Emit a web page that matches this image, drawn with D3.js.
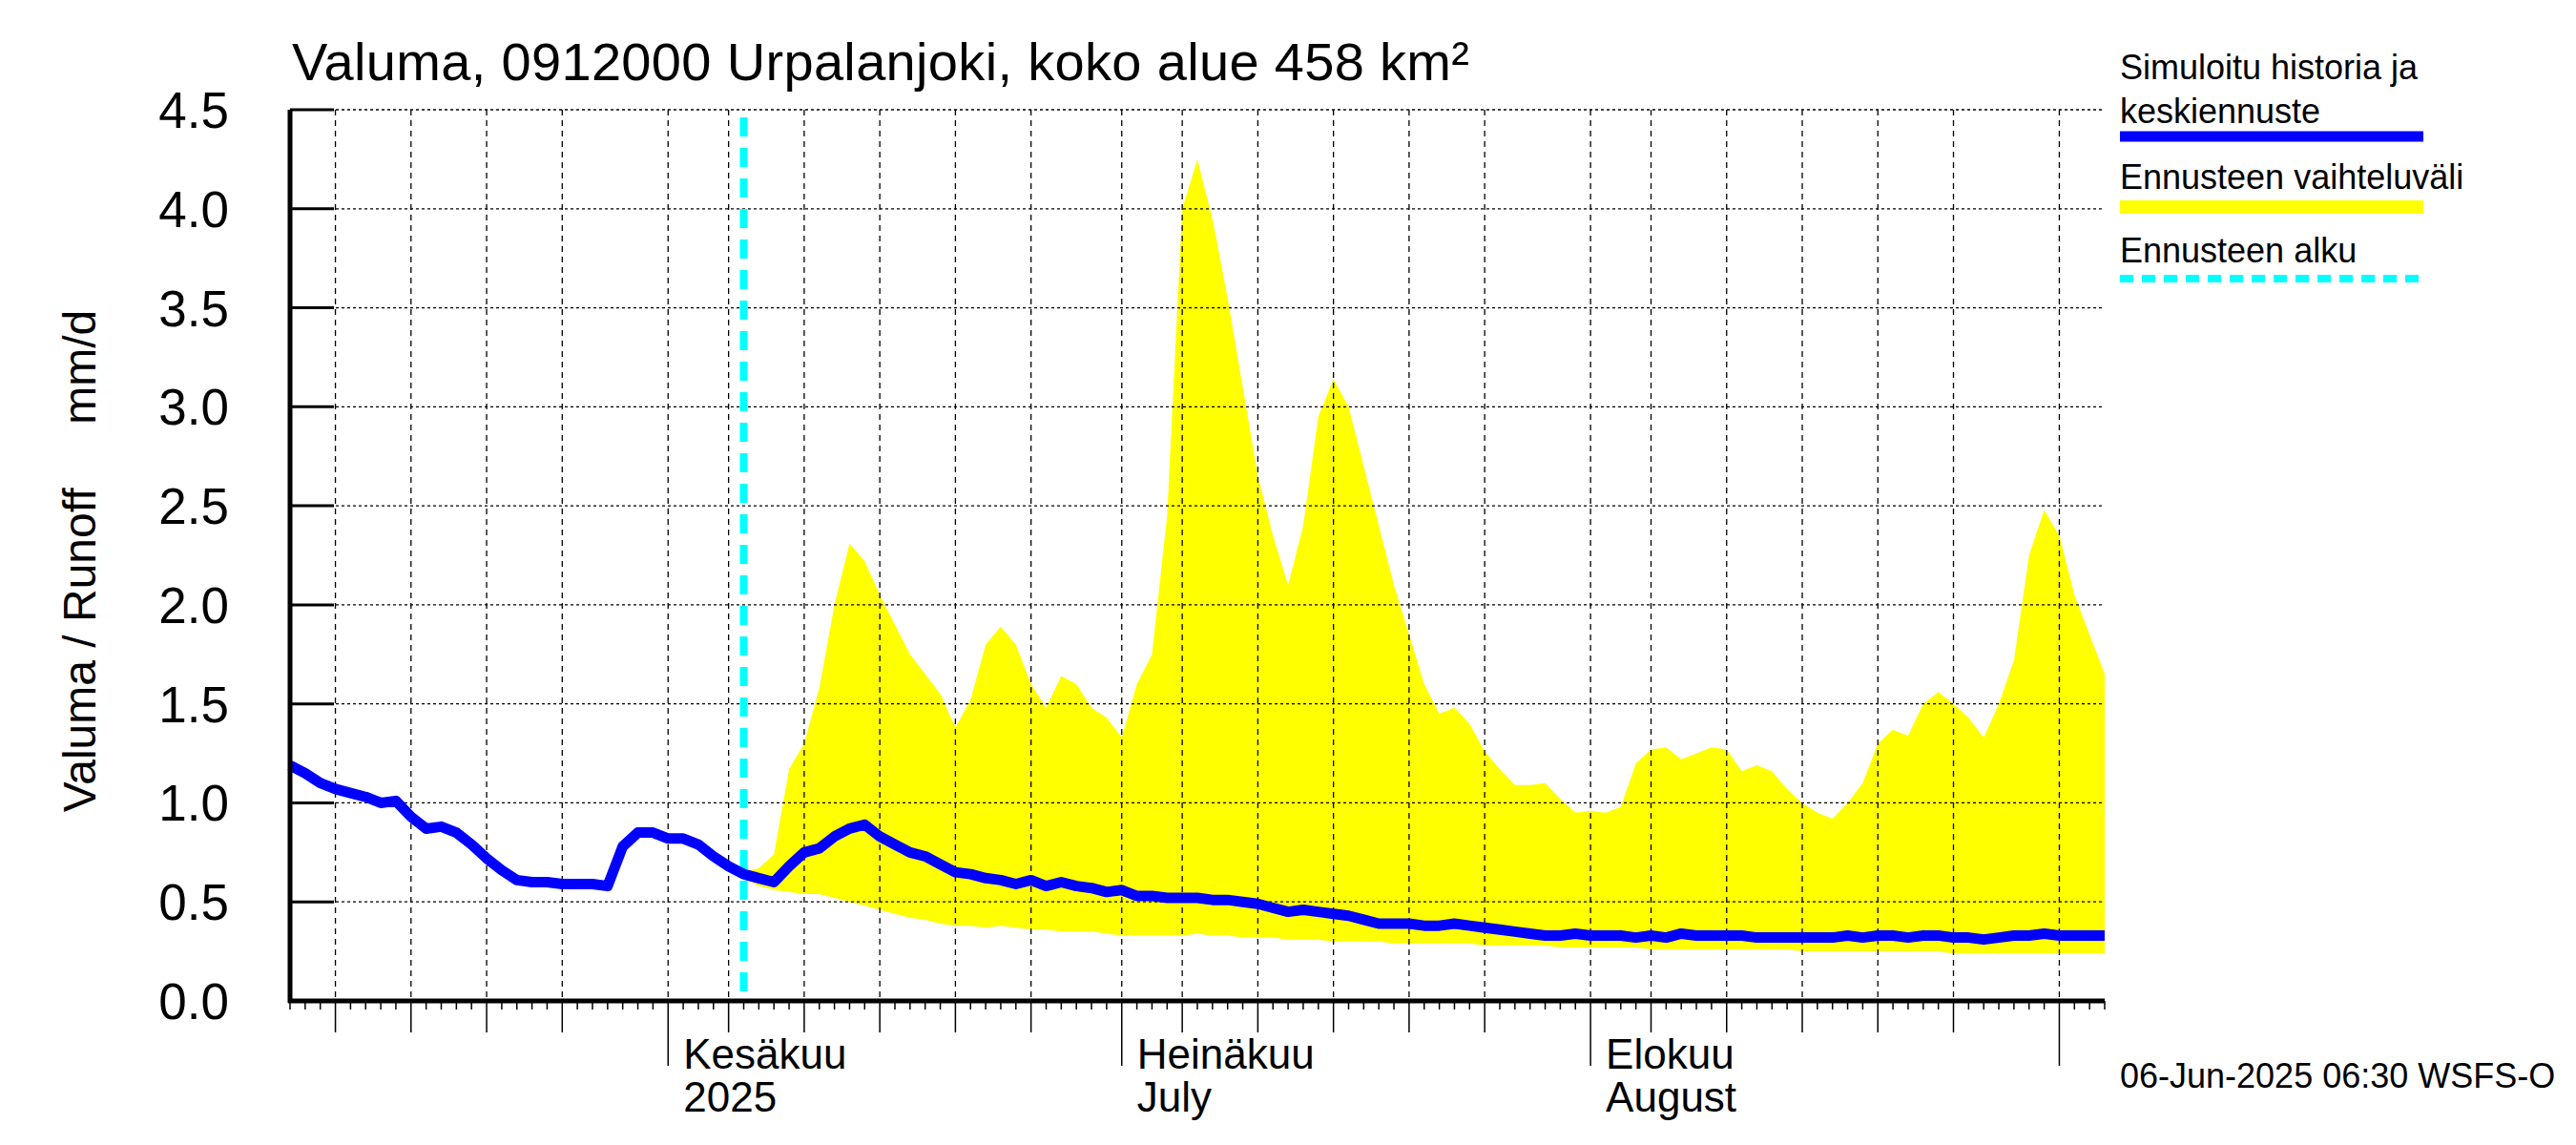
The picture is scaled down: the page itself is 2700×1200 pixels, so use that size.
<!DOCTYPE html>
<html lang="fi">
<head>
<meta charset="UTF-8">
<title>Valuma 0912000 Urpalanjoki</title>
<style>
  body { margin: 0; background: #fff; }
  svg { display: block; }
  .narrow { font-family: 'Liberation Sans Narrow', 'Arial Narrow', 'Liberation Sans', sans-serif; }
</style>
<script src="https://cdn.jsdelivr.net/npm/d3@7"></script>
</head>
<body>
<svg id="chart" width="2700" height="1200"></svg>
<script>
// daily values, first day 2025-05-07
const startDay = "2025-05-07";
const forecastStart = "2025-06-06";
const simulated = [
  1.19, 1.15, 1.10, 1.07, 1.05, 1.03, 1.00, 1.01, 0.93, 0.87,
  0.88, 0.85, 0.79, 0.72, 0.66, 0.61, 0.60, 0.60, 0.59, 0.59,
  0.59, 0.58, 0.78, 0.85, 0.85, 0.82, 0.82, 0.79, 0.73, 0.68,
  0.64, 0.62, 0.60, 0.68, 0.75, 0.77, 0.83, 0.87, 0.89, 0.83,
  0.79, 0.75, 0.73, 0.69, 0.65, 0.64, 0.62, 0.61, 0.59, 0.61,
  0.58, 0.60, 0.58, 0.57, 0.55, 0.56, 0.53, 0.53, 0.52, 0.52,
  0.52, 0.51, 0.51, 0.50, 0.49, 0.47, 0.45, 0.46, 0.45, 0.44,
  0.43, 0.41, 0.39, 0.39, 0.39, 0.38, 0.38, 0.39, 0.38, 0.37,
  0.36, 0.35, 0.34, 0.33, 0.33, 0.34, 0.33, 0.33, 0.33, 0.32,
  0.33, 0.32, 0.34, 0.33, 0.33, 0.33, 0.33, 0.32, 0.32, 0.32,
  0.32, 0.32, 0.32, 0.33, 0.32, 0.33, 0.33, 0.32, 0.33, 0.33,
  0.32, 0.32, 0.31, 0.32, 0.33, 0.33, 0.34, 0.33, 0.33, 0.33,
  0.33
];
// forecast range, first day 2025-06-06
const rangeHigh = [
  0.65, 0.67, 0.74, 1.17, 1.30, 1.58, 2.00, 2.31, 2.22, 2.05,
  1.90, 1.75, 1.65, 1.55, 1.38, 1.52, 1.80, 1.89, 1.80, 1.60,
  1.48, 1.64, 1.60, 1.48, 1.43, 1.33, 1.60, 1.75, 2.45, 4.00,
  4.25, 3.95, 3.55, 3.10, 2.65, 2.35, 2.10, 2.40, 2.95, 3.14,
  3.00, 2.70, 2.40, 2.10, 1.85, 1.60, 1.45, 1.48, 1.40, 1.26,
  1.17, 1.09, 1.09, 1.10, 1.02, 0.95, 0.96, 0.95, 0.98, 1.20,
  1.27, 1.28, 1.22, 1.25, 1.28, 1.27, 1.16, 1.19, 1.16, 1.07,
  1.00, 0.95, 0.92, 1.00, 1.10, 1.30, 1.37, 1.34, 1.50, 1.56,
  1.50, 1.43, 1.33, 1.50, 1.72, 2.25, 2.48, 2.35, 2.05, 1.85,
  1.65
];
const rangeLow = [
  0.62, 0.58, 0.56, 0.55, 0.54, 0.54, 0.52, 0.50, 0.48, 0.46,
  0.44, 0.42, 0.41, 0.39, 0.38, 0.38, 0.37, 0.38, 0.37, 0.36,
  0.36, 0.35, 0.35, 0.35, 0.34, 0.33, 0.33, 0.33, 0.33, 0.33,
  0.34, 0.33, 0.33, 0.32, 0.32, 0.32, 0.31, 0.31, 0.31, 0.30,
  0.30, 0.30, 0.30, 0.29, 0.29, 0.29, 0.29, 0.29, 0.29, 0.28,
  0.28, 0.28, 0.28, 0.28, 0.27, 0.27, 0.27, 0.27, 0.27, 0.27,
  0.26, 0.26, 0.26, 0.26, 0.26, 0.26, 0.26, 0.26, 0.26, 0.26,
  0.25, 0.25, 0.25, 0.25, 0.25, 0.25, 0.25, 0.25, 0.25, 0.25,
  0.24, 0.24, 0.24, 0.24, 0.24, 0.24, 0.24, 0.24, 0.24, 0.24,
  0.24
];
const yTicks = [0, 0.5, 1.0, 1.5, 2.0, 2.5, 3.0, 3.5, 4.0, 4.5];
const monthLabels = [
  ["2025-06-01", "Kesäkuu", "2025"],
  ["2025-07-01", "Heinäkuu", "July"],
  ["2025-08-01", "Elokuu", "August"]
];
const titleText = "Valuma, 0912000 Urpalanjoki, koko alue 458 km²";
const yLabel = "Valuma / Runoff     mm/d";
const footer = "06-Jun-2025 06:30 WSFS-O";

const parse = d3.utcParse("%Y-%m-%d");
const t0 = parse(startDay), tf = parse(forecastStart);
const dayAt = (base, i) => d3.utcDay.offset(base, i);

const pL = 304, pR = 2206, pT = 115, pB = 1049;
const svg = d3.select("#chart");
const x = d3.scaleUtc().domain([t0, parse("2025-09-04")]).range([pL, pR]);
const y = d3.scaleLinear().domain([0, 4.5]).range([pB, pT]);

// band
const band = rangeHigh.map((h, i) => ({ t: dayAt(tf, i), h, l: rangeLow[i] }));
svg.append("path").datum(band)
  .attr("fill", "#ffff00")
  .attr("d", d3.area().x(d => x(d.t)).y0(d => y(d.l)).y1(d => y(d.h)));

// grid
const days = d3.utcDay.range(t0, d3.utcDay.offset(x.domain()[1], 1));
const isFive = d => d.getUTCDate() % 5 === 0 && d.getUTCDate() < 30;
const fiveDays = days.filter(d => isFive(d) || d.getUTCDate() === 1);
svg.append("g").selectAll("line").data(fiveDays).join("line")
  .attr("x1", d => x(d)).attr("x2", d => x(d)).attr("y1", pT).attr("y2", pB)
  .attr("stroke", "#000").attr("stroke-width", 1.3).attr("stroke-dasharray", "6,5");
svg.append("g").selectAll("line").data(yTicks.slice(1)).join("line")
  .attr("x1", pL).attr("x2", pR).attr("y1", d => y(d)).attr("y2", d => y(d))
  .attr("stroke", "#000").attr("stroke-width", 1.3).attr("stroke-dasharray", "3,3");

// ticks below axis
svg.append("g").selectAll("line").data(days).join("line")
  .attr("x1", d => x(d)).attr("x2", d => x(d)).attr("y1", pB)
  .attr("y2", d => d.getUTCDate() === 1 ? 1117 : (isFive(d) ? 1082 : 1058))
  .attr("stroke", "#000").attr("stroke-width", 1.5);

// y ticks inward
svg.append("g").selectAll("line").data(yTicks).join("line")
  .attr("x1", pL).attr("x2", pL + 46).attr("y1", d => y(d)).attr("y2", d => y(d))
  .attr("stroke", "#000").attr("stroke-width", 3);
svg.append("g").selectAll("text").data(yTicks).join("text")
  .attr("x", 240).attr("y", d => y(d) + 19).attr("text-anchor", "end")
  .attr("font-family", "'Liberation Sans', Arial, sans-serif").attr("font-size", 53)
  .text(d => d.toFixed(1));

// forecast start
svg.append("line").attr("x1", x(tf)).attr("x2", x(tf)).attr("y1", pT + 8).attr("y2", pB)
  .attr("stroke", "#00ffff").attr("stroke-width", 8).attr("stroke-dasharray", "20,12");

// simulated line
const sim = simulated.map((v, i) => ({ t: dayAt(t0, i), v }));
svg.append("path").datum(sim)
  .attr("fill", "none").attr("stroke", "#0000ff").attr("stroke-width", 11)
  .attr("stroke-linejoin", "round")
  .attr("d", d3.line().x(d => x(d.t)).y(d => y(d.v)));

// axes frame
svg.append("line").attr("x1", pL).attr("x2", pL).attr("y1", pT).attr("y2", pB + 2)
  .attr("stroke", "#000").attr("stroke-width", 5);
svg.append("line").attr("x1", pL - 2).attr("x2", pR).attr("y1", pB).attr("y2", pB)
  .attr("stroke", "#000").attr("stroke-width", 5);

// month labels
const ml = svg.append("g").attr("class", "narrow").attr("font-size", 44);
monthLabels.forEach(([d, a, b]) => {
  ml.append("text").attr("x", x(parse(d)) + 16).attr("y", 1120).text(a);
  ml.append("text").attr("x", x(parse(d)) + 16).attr("y", 1165).text(b);
});

// title, y label
svg.append("text").attr("class", "narrow").attr("x", 306).attr("y", 84)
  .attr("font-size", 56).attr("textLength", 1234).text(titleText);
svg.append("text").attr("transform", "translate(100,588) rotate(-90)")
  .attr("text-anchor", "middle").attr("font-family", "'Liberation Sans', Arial, sans-serif")
  .attr("font-size", 48).style("white-space", "pre").text(yLabel);

// legend
const lg = svg.append("g").attr("class", "narrow").attr("font-size", 36);
lg.append("text").attr("x", 2222).attr("y", 83).text("Simuloitu historia ja");
lg.append("text").attr("x", 2222).attr("y", 129).text("keskiennuste");
lg.append("line").attr("x1", 2222).attr("x2", 2540).attr("y1", 143).attr("y2", 143)
  .attr("stroke", "#0000ff").attr("stroke-width", 11);
lg.append("text").attr("x", 2222).attr("y", 198).text("Ennusteen vaihteluväli");
lg.append("line").attr("x1", 2222).attr("x2", 2540).attr("y1", 217).attr("y2", 217)
  .attr("stroke", "#ffff00").attr("stroke-width", 14);
lg.append("text").attr("x", 2222).attr("y", 275).text("Ennusteen alku");
lg.append("line").attr("x1", 2222).attr("x2", 2540).attr("y1", 292).attr("y2", 292)
  .attr("stroke", "#00ffff").attr("stroke-width", 8).attr("stroke-dasharray", "14,9");
svg.append("text").attr("class", "narrow").attr("x", 2222).attr("y", 1140)
  .attr("font-size", 36).text(footer);
</script>
</body>
</html>
